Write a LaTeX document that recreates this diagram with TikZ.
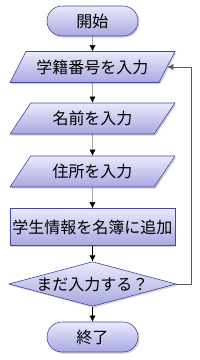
\documentclass[tikz,border=0pt]{standalone}
\usepackage{fontspec}
\newfontfamily\jpfont{Noto Sans CJK JP}
\usepackage{tikz}
\definecolor{flowtop}{RGB}{234,234,252}
\definecolor{flowbot}{RGB}{168,168,226}
\definecolor{flowline}{RGB}{70,70,160}
\definecolor{loopgray}{RGB}{90,90,90}
\usetikzlibrary{shapes.geometric, shapes.misc, shadows, arrows.meta}

\begin{document}
\begin{tikzpicture}[x=1pt, y=-1pt,
			>={Latex[length=6pt, width=6pt]},   %Pfeilspitzen
			font=\jpfont\fontsize{16}{19}\selectfont,
			box/.style={draw=flowline, line width=0.6pt, top color=flowtop, bottom color=flowbot, inner sep=0pt,
				drop shadow={shadow xshift=1.5pt, shadow yshift=-1.5pt, opacity=0.35}},
			terminal/.style={box, rounded rectangle, minimum width=91pt, minimum height=30pt},
			eingabe/.style={box, trapezium, trapezium left angle=48, trapezium right angle=132, trapezium stretches=true, minimum width=165pt, minimum height=31pt},
			prozess/.style={box, rectangle, minimum width=165pt, minimum height=37pt},
			frage/.style={box, diamond, aspect=3.75, minimum width=165pt, minimum height=44pt}]
			%Bildbereich
			\useasboundingbox (0,0) rectangle (200,360);
			% Knoten zeichnen
			\node[terminal] (start) at (92.5,21) {開始};
			\node[eingabe] (nummer) at (92.5,67) {学籍番号を入力};
			\node[eingabe] (name) at (92.5,118.5) {名前を入力};
			\node[eingabe] (adresse) at (92.5,171.5) {住所を入力};
			\node[prozess] (eintrag) at (92.5,227) {学生情報を名簿に追加};
			\node[frage] (frage) at (92.5,284) {まだ入力する？};
			\node[terminal] (ende) at (92.5,337) {終了};
			% Pfeile zeichnen
			\foreach \a/\b in {start/nummer, nummer/name, name/adresse, adresse/eintrag, eintrag/frage, frage/ende}
				\draw[->] (\a) -- (\b);
			% Schleife zurueck
			\draw[->, loopgray] (frage.east) -- (191,284) |- (nummer.east);
		\end{tikzpicture}
\end{document}
